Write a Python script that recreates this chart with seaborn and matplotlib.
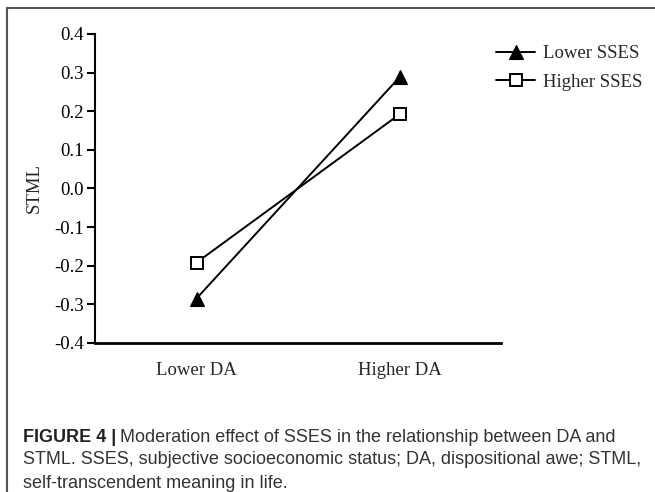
import pandas as pd
import matplotlib.pyplot as plt
import seaborn as sns
from matplotlib.lines import Line2D

# values
da_levels = ['Lower DA', 'Higher DA']
lower_sses = [-0.285, 0.288]
higher_sses = [-0.192, 0.192]
y_ticks = [-0.4, -0.3, -0.2, -0.1, 0.0, 0.1, 0.2, 0.3, 0.4]

df = pd.DataFrame({
    'DA': da_levels * 2,
    'STML': lower_sses + higher_sses,
    'group': ['Lower SSES'] * 2 + ['Higher SSES'] * 2,
})

sns.set_style('white')
plt.rcParams['font.family'] = ['Liberation Serif', 'DejaVu Serif']

fig = plt.figure(figsize=(6.55, 4.92), dpi=100)
ax = fig.add_axes([0.145, 0.303, 0.62, 0.628])

sns.lineplot(data=df[df['group'] == 'Lower SSES'], x='DA', y='STML', ax=ax,
             color='black', linewidth=1.4, marker='^', markersize=10,
             markerfacecolor='black', markeredgecolor='black', markeredgewidth=0.8,
             label='Lower SSES', legend=False)
sns.lineplot(data=df[df['group'] == 'Higher SSES'], x='DA', y='STML', ax=ax,
             color='black', linewidth=1.4, marker='s', markersize=9,
             markerfacecolor='white', markeredgecolor='black', markeredgewidth=1.4,
             label='Higher SSES', legend=False)

ax.set_xlim(-0.5, 1.5)
ax.set_ylim(-0.4, 0.4)
ax.set_yticks(y_ticks)
ax.set_yticklabels([f'{v:.1f}' for v in y_ticks])
ax.set_xlabel('')
ax.set_ylabel('STML', fontsize=13.5, labelpad=8)

for side in ['top', 'right']:
    ax.spines[side].set_visible(False)
ax.spines['left'].set_linewidth(1.5)
ax.spines['bottom'].set_linewidth(2)
ax.spines['left'].set_color('black')
ax.spines['bottom'].set_color('black')
ax.tick_params(axis='y', direction='out', length=6, width=1.5, left=True,
               labelsize=13.5, pad=2, colors='black')
ax.tick_params(axis='x', length=0, labelsize=13.5, pad=14)

ax.legend(loc='upper left', bbox_to_anchor=(0.757, 0.908),
          bbox_transform=fig.transFigure, frameon=False, fontsize=13.5,
          handlelength=2.1, handletextpad=0.4, labelspacing=0.6,
          borderpad=0, borderaxespad=0)

# grey frame of the figure panel
fig.add_artist(Line2D([7 / 655, 1], [1 - 8 / 492, 1 - 8 / 492],
                      transform=fig.transFigure, color='#555555', linewidth=1.5))
fig.add_artist(Line2D([7 / 655, 7 / 655], [0, 1 - 8 / 492],
                      transform=fig.transFigure, color='#555555', linewidth=1.5))

# caption
cap_font = ['Liberation Sans', 'DejaVu Sans']
t = fig.text(23 / 655, 1 - 437 / 492, 'FIGURE 4 |', family=cap_font,
             fontsize=13, fontweight='bold', color='#222222', va='center')
fig.canvas.draw()
bb = t.get_window_extent()
fig.text((bb.x1 + 4) / 655, 1 - 437 / 492,
         'Moderation effect of SSES in the relationship between DA and',
         family=cap_font, fontsize=13, color='#333333', va='center')
fig.text(23 / 655, 1 - 460 / 492,
         'STML. SSES, subjective socioeconomic status; DA, dispositional awe; STML,',
         family=cap_font, fontsize=13, color='#333333', va='center')
fig.text(23 / 655, 1 - 483 / 492, 'self-transcendent meaning in life.',
         family=cap_font, fontsize=13, color='#333333', va='center')

fig.savefig('out.png', dpi=100)
